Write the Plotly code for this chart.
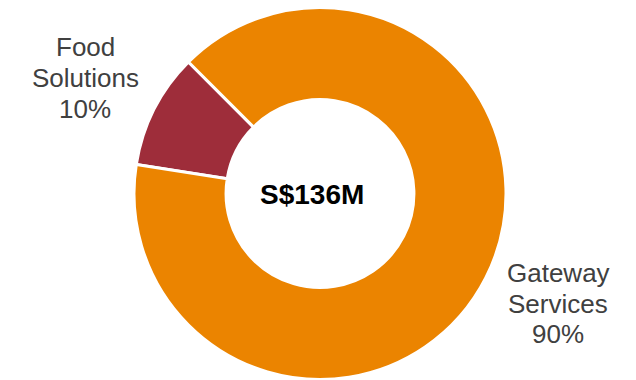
import plotly.graph_objects as go

W, H = 636, 380

categories = ["Food Solutions", "Gateway Services"]
label_lines = [["Food", "Solutions"], ["Gateway", "Services"]]
values = [10, 90]
colors = ["#9E2D3A", "#EB8400"]
center_label = "S$136M"

total = sum(values)
pcts = [round(v / total * 100) for v in values]

cx, cy, r = 320, 193.5, 186

fig = go.Figure(go.Pie(
    labels=categories,
    values=values,
    hole=0.505,
    sort=False,
    direction="counterclockwise",
    rotation=-81,
    marker=dict(colors=colors, line=dict(color="white", width=3)),
    textinfo="none",
    hoverinfo="label+percent",
    showlegend=False,
    domain=dict(x=[(cx - r) / W, (cx + r) / W], y=[(H - cy - r) / H, (H - cy + r) / H]),
))

def px(x, y):
    return x / W, 1 - y / H

annotations = []
# label positions (pixel centers of each line)
label_pos = [(85, [47, 78, 109]), (558, [273, 304, 334])]
for lines, pct, (lx, ys) in zip(label_lines, pcts, label_pos):
    texts = lines + [f"{pct}%"]
    for t, yy in zip(texts, ys):
        ax, ay = px(lx, yy)
        annotations.append(dict(
            text=t, x=ax, y=ay, xref="paper", yref="paper",
            xanchor="center", yanchor="middle", showarrow=False,
            font=dict(family="Liberation Sans, Arial, sans-serif", size=26, color="#404040"),
        ))

ax, ay = px(312, 194)
annotations.append(dict(
    text=f"<b>{center_label}</b>", x=ax, y=ay, xref="paper", yref="paper",
    xanchor="center", yanchor="middle", showarrow=False,
    font=dict(family="Liberation Sans, Arial, sans-serif", size=28, color="#000000"),
))

fig.update_layout(
    width=W, height=H,
    margin=dict(l=0, r=0, t=0, b=0),
    paper_bgcolor="white", plot_bgcolor="white",
    annotations=annotations,
)

fig.write_html("out.html")
